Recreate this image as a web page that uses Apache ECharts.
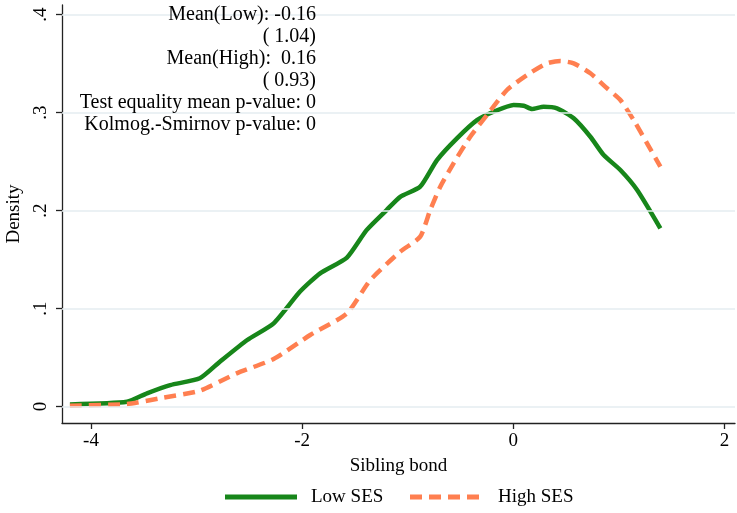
<!DOCTYPE html>
<html><head><meta charset="utf-8">
<script src="https://cdn.jsdelivr.net/npm/echarts@6/dist/echarts.min.js"></script>
<style>html,body{margin:0;padding:0;background:#fff}#c{width:737px;height:513px}</style>
</head><body><div id="c"></div>
<script>
const lowX = [-4.20,-3.66,-3.47,-3.25,-2.97,-2.78,-2.52,-2.27,-2.02,-1.83,-1.576,-1.39,-1.20,-1.071,-0.882,-0.723,-0.534,-0.344,-0.187,0.003,0.098,0.177,0.287,0.414,0.572,0.730,0.856,1.014,1.173,1.393];
const lowY = [0.0022,0.0049,0.0135,0.0219,0.0288,0.0457,0.0679,0.0849,0.1173,0.1359,0.152,0.180,0.2005,0.214,0.2243,0.2515,0.2737,0.2923,0.3008,0.3077,0.3069,0.3036,0.3059,0.3043,0.2941,0.2753,0.2566,0.2413,0.2209,0.1818];
const highX = [-4.20,-3.66,-3.35,-2.97,-2.62,-2.27,-1.924,-1.576,-1.355,-1.071,-0.882,-0.787,-0.692,-0.566,-0.408,-0.249,-0.06,0.13,0.319,0.445,0.572,0.730,0.888,1.014,1.140,1.267,1.393];
const highY = [0.0009,0.0026,0.0084,0.0161,0.0339,0.0485,0.073,0.0951,0.129,0.158,0.1733,0.2005,0.2243,0.2482,0.2753,0.2974,0.323,0.3383,0.3502,0.3526,0.3502,0.340,0.3247,0.3128,0.2923,0.2686,0.2447];
const xTicks = [-4,-2,0,2];
const yTicks = [0,0.1,0.2,0.3,0.4];
const seriesNames = ['Low SES','High SES'];
const noteLines = ['Mean(Low): -0.16','( 1.04)','Mean(High):  0.16','( 0.93)','Test equality mean p-value: 0','Kolmog.-Smirnov p-value: 0'];

const FONT = '"Liberation Serif", "DejaVu Serif", serif';
const GREEN = '#17861a', ORANGE = '#ff7f50';
const chart = echarts.init(document.getElementById('c'), null, {renderer:'canvas'});
const zip = (a,b)=>a.map((v,i)=>[v,b[i]]);
chart.setOption({
  animation:false,
  backgroundColor:'#fff',
  textStyle:{fontFamily:FONT},
  grid:{left:62,right:2,top:5,bottom:90,containLabel:false,outerBoundsMode:'none'},
  xAxis:{type:'value',min:-4.275,max:2.1,
    name:'Sibling bond',nameLocation:'middle',nameGap:34,
    nameTextStyle:{fontFamily:FONT,fontSize:19,color:'#000'},
    axisLine:{show:true,onZero:false,lineStyle:{color:'#222',width:1.3}},
    axisTick:{show:true,length:6,customValues:xTicks,lineStyle:{color:'#222',width:1.3}},
    axisLabel:{customValues:xTicks,fontFamily:FONT,fontSize:19,color:'#000',margin:9,
      formatter:v=>String(v)},
    splitLine:{show:false}},
  yAxis:{type:'value',min:-0.0168,max:0.4097,
    name:'Density',nameLocation:'middle',nameGap:38,nameRotate:90,
    nameTextStyle:{fontFamily:FONT,fontSize:19,color:'#000'},
    axisLine:{show:true,onZero:false,lineStyle:{color:'#222',width:1.3}},
    axisTick:{show:true,length:6,customValues:yTicks,lineStyle:{color:'#222',width:1.3}},
    axisLabel:{customValues:yTicks,rotate:90,fontFamily:FONT,fontSize:19,color:'#000',margin:11,
      formatter:v=>v===0?'0':'.'+Math.round(v*10)},
    splitLine:{show:false}},
  legend:{show:false,data:seriesNames},
  graphic:[
    {type:'text',x:316,y:4,z:100,style:{text:noteLines.join('\n'),fontFamily:FONT,fontSize:20,lineHeight:22,align:'right',verticalAlign:'top',fill:'#000'}},
    {type:'line',z:100,shape:{x1:225,y1:497,x2:297,y2:497},style:{stroke:GREEN,lineWidth:5}},
    {type:'text',z:100,x:311,y:497,style:{text:seriesNames[0],fontFamily:FONT,fontSize:19,fill:'#000',verticalAlign:'middle'}},
    {type:'line',z:100,shape:{x1:410,y1:497,x2:482,y2:497},style:{stroke:ORANGE,lineWidth:5,lineDash:[12,7]}},
    {type:'text',z:100,x:498,y:497,style:{text:seriesNames[1],fontFamily:FONT,fontSize:19,fill:'#000',verticalAlign:'middle'}}
  ],
  series:[
    {name:seriesNames[0],type:'line',data:zip(lowX,lowY),showSymbol:false,symbol:'none',smooth:0.2,
      lineStyle:{color:GREEN,width:4.5},itemStyle:{color:GREEN},z:3,
      markLine:{silent:true,symbol:'none',label:{show:false},animation:false,
        lineStyle:{color:'#e4edf0',width:1.5,type:'solid'},
        data:yTicks.map(v=>({yAxis:v}))}},
    {name:seriesNames[1],type:'line',data:zip(highX,highY),showSymbol:false,symbol:'none',smooth:0.2,
      lineStyle:{color:ORANGE,width:4.5,type:[12,7]},itemStyle:{color:ORANGE},z:4}
  ]
});
</script></body></html>
